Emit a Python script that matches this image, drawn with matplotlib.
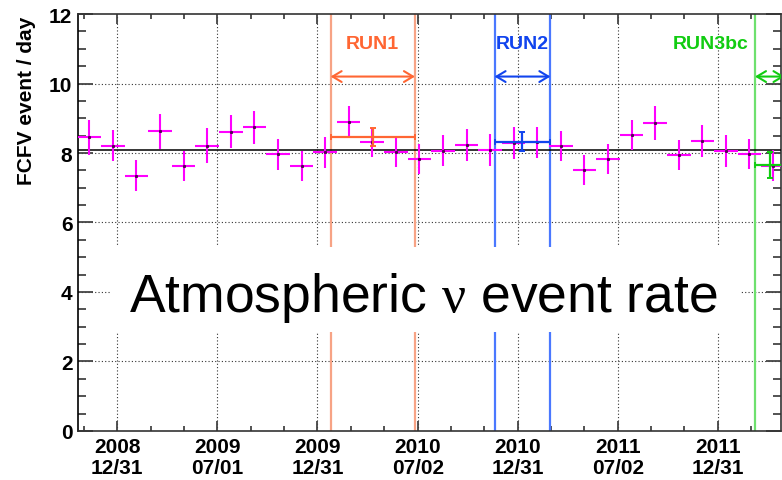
import matplotlib
matplotlib.use("Agg")
import matplotlib.pyplot as plt
from matplotlib.patches import FancyArrowPatch, Rectangle
from matplotlib.ticker import FixedLocator, MultipleLocator

plt.rcParams['font.family'] = ['Liberation Sans', 'DejaVu Sans']
plt.rcParams['mathtext.fontset'] = 'custom'
plt.rcParams['mathtext.rm'] = 'Liberation Serif'

# x in days since 2008/12/31
days = [-51, -8, 35, 78, 121, 164, 207, 250, 293, 336, 379, 422, 465, 508, 551,
        594, 637, 680, 723, 766, 809, 852, 895, 938, 981, 1024, 1067, 1110, 1153, 1196]
rate = [8.45, 8.21, 7.35, 8.62, 7.62, 8.21, 8.61, 8.74, 7.96, 7.62, 8.02, 8.88, 8.31, 8.02, 7.83,
        8.07, 8.24, 8.09, 8.29, 8.31, 8.21, 7.50, 7.83, 8.52, 8.86, 7.94, 8.35, 8.07, 7.97, 7.63]
rate_err = [0.50, 0.45, 0.45, 0.50, 0.44, 0.50, 0.48, 0.47, 0.45, 0.43, 0.45, 0.46, 0.42, 0.43, 0.43,
            0.45, 0.46, 0.45, 0.45, 0.44, 0.43, 0.43, 0.43, 0.44, 0.48, 0.44, 0.47, 0.46, 0.43, 0.45]
bin_halfwidth = 21.5
mean_rate = 8.1

run_names = ['RUN1', 'RUN2', 'RUN3bc']
run_start = [389, 688, 1163]
run_end = [543, 790, 1217]
run_rate = [8.45, 8.33, 7.65]
run_err = [0.26, 0.28, 0.37]
run_label_x = [466, 739, 1083]
run_line_col = ['#f7a385', '#4a78ff', '#6ee06e']
run_col = ['#ff6633', '#1144ee', '#11cc11']

major_days = [0, 182, 365, 548, 730, 913, 1095]
major_labels = ['2008\n12/31', '2009\n07/01', '2009\n12/31', '2010\n07/02',
                '2010\n12/31', '2011\n07/02', '2011\n12/31']

fig = plt.figure(figsize=(7.82, 4.81), dpi=100)
ax = fig.add_axes([0.0997, 0.1019, 0.8990, 0.8669])

# gridlines
for d in major_days:
    ax.axvline(d, color='#333333', lw=0.8, ls=(0, (1, 2)), zorder=1)
for yv in [2, 4, 6, 8, 10]:
    ax.axhline(yv, color='#333333', lw=0.8, ls=(0, (1, 2)), zorder=1)

# run boundaries
for i in range(3):
    ax.axvline(run_start[i], color=run_line_col[i], lw=1.6, zorder=2)
    if i < 2:
        ax.axvline(run_end[i], color=run_line_col[i], lw=1.6, zorder=2)

ax.axhline(mean_rate, color='black', lw=1.1, zorder=3)

ax.errorbar(days, rate, xerr=bin_halfwidth, yerr=rate_err, fmt='none',
            ecolor='#ff00ff', elinewidth=1.5, capsize=0, zorder=4)
ax.plot(days, rate, ls='none', marker='s', ms=1.2, color='#550055', zorder=5)

for i in range(3):
    c = 0.5 * (run_start[i] + run_end[i])
    hw = 0.5 * (run_end[i] - run_start[i])
    ax.errorbar([c], [run_rate[i]], xerr=[hw], yerr=[run_err[i]], fmt='none',
                ecolor=run_col[i], elinewidth=1.6, capsize=2, capthick=1.4, zorder=6)
    arr = FancyArrowPatch((run_start[i], 10.2), (run_end[i], 10.2),
                          arrowstyle='<->,head_length=0.5,head_width=0.3',
                          mutation_scale=13, color=run_col[i], lw=1.5,
                          shrinkA=0, shrinkB=0, zorder=6)
    ax.add_patch(arr)
    ax.text(run_label_x[i], 11.14, run_names[i], color=run_col[i], fontsize=14,
            fontweight='bold', ha='center', va='center', zorder=6)

# white box with the big caption
ax.add_patch(Rectangle((0.0455, 0.237), 0.896, 0.204, transform=ax.transAxes,
                       facecolor='white', edgecolor='none', zorder=7))
ax.text(0.4915, 0.2885, r'Atmospheric $\mathrm{\nu}$ event rate', transform=ax.transAxes,
        fontsize=38.5, ha='center', va='baseline', zorder=8)

ax.set_xlim(-71.7, 1210.5)
ax.set_ylim(0, 12)

minor_days = [-61]
for a, b in zip(major_days[:-1], major_days[1:]):
    minor_days += [a + (b - a) / 3, a + 2 * (b - a) / 3]
minor_days += [1156]
ax.xaxis.set_major_locator(FixedLocator(major_days))
ax.xaxis.set_minor_locator(FixedLocator(minor_days))
ax.set_xticklabels(major_labels, fontsize=15, fontweight='bold', linespacing=1.15)
ax.yaxis.set_major_locator(MultipleLocator(2))
ax.yaxis.set_minor_locator(MultipleLocator(0.5))
for lab in ax.get_yticklabels():
    lab.set_fontsize(15)
    lab.set_fontweight('bold')

ax.tick_params(axis='both', which='both', direction='in', top=True, right=True, color='#444444', width=1.3)
ax.tick_params(axis='y', which='major', length=11, pad=4)
ax.tick_params(axis='y', which='minor', length=5.5)
ax.tick_params(axis='x', which='major', length=7.2, pad=4)
ax.tick_params(axis='x', which='minor', length=3.6)

for s in ax.spines.values():
    s.set_linewidth(1.2)
    s.set_color('#333333')
ax.spines['left'].set_color('black')

ax.set_ylabel('FCFV event / day', fontsize=15, fontweight='bold', loc='top')
ax.yaxis.set_label_coords(-0.060, 0.995)

fig.savefig('out.png', dpi=100)
